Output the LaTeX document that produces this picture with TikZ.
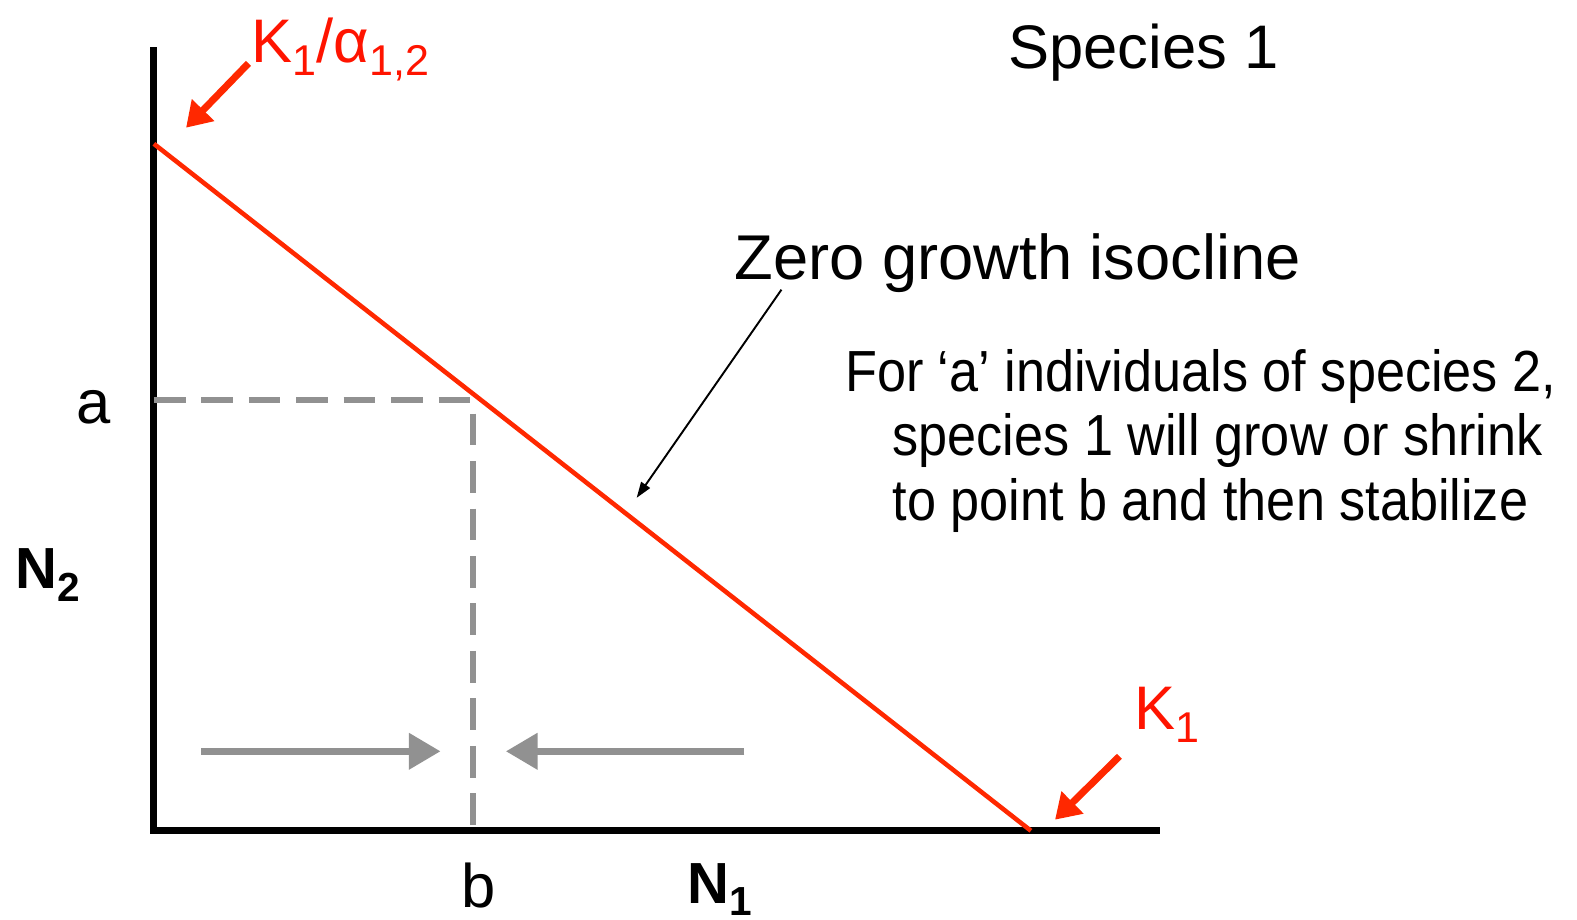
\documentclass[tikz,border=0pt]{standalone}
\usepackage{fontspec}
\setmainfont{Liberation Sans}
\newfontfamily\narrowfont[FakeStretch=0.9]{Liberation Sans}
\usetikzlibrary{arrows.meta}

\definecolor{isored}{RGB}{255,40,0}
\definecolor{lblred}{RGB}{255,20,0}
\definecolor{guidegray}{RGB}{145,145,145}
\newcommand{\idx}[1]{\raisebox{-0.22em}{\fontsize{0.7\fontdimen6\font}{0pt}\selectfont #1}}

\begin{document}
\begin{tikzpicture}[
  x=0.02011cm, y=-0.02011cm,
  axis/.style={line width=4pt},
  iso/.style={line width=2.6pt, draw=isored},
  guide/.style={line width=3.5pt, draw=guidegray, dash pattern=on 18pt off 9pt},
  push/.style={-{Triangle[length=18pt,width=20pt]}, line width=3.8pt, draw=guidegray},
  point/.style={-{Triangle[length=14pt,width=17pt]}, line width=4pt, draw=isored, fill=isored},
  note/.style={-{Triangle[length=9pt,width=6pt]}, line width=1.1pt},
  lbl/.style={inner sep=0pt, font=\fontsize{35}{42}\selectfont},
  redlbl/.style={inner sep=0pt, text=lblred, font=\fontsize{35}{40}\selectfont},
  axlbl/.style={inner sep=0pt, anchor=base west, font=\bfseries\fontsize{33}{38}\selectfont},
]
\useasboundingbox (0,0) rectangle (1568,914);

% Axes
\coordinate (ytop) at (153,47);
\coordinate (xend) at (1153,826);
\draw[axis] (ytop) |- (xend);

% Isocline
\coordinate (kalpha) at (153,143);
\coordinate (kone) at (1025,826);
\draw[iso] (kalpha) -- (kone);

% Guides for a and b
\coordinate (atick) at (153,398);
\coordinate (btick) at (470,826);
\draw[guide] (atick) -| (btick);

% Movement towards b
\coordinate (growL) at (200,747);
\coordinate (growR) at (438,747);
\coordinate (shrinkR) at (740,747);
\coordinate (shrinkL) at (503,747);
\draw[push] (growL) -- (growR);
\draw[push] (shrinkR) -- (shrinkL);

% Labels
\node[lbl] (species) at (1137,52) {Species 1};
\node[lbl, font=\fontsize{36}{42}\selectfont] (zero) at (1012,262) {Zero growth isocline};
\node[lbl, anchor=west, align=left, font=\narrowfont\fontsize{33}{36.7}\selectfont] (info) at (840,438)
  {For ‘a’ individuals of species 2,\\
   \hspace*{27pt}species 1 will grow or shrink\\
   \hspace*{27pt}to point b and then stabilize};
\node[lbl] (alab) at (93,405) {a};
\node[lbl] (blab) at (476,880) {b};
\node[axlbl] (ntwo) at (15,585) {N\idx{2}};
\node[axlbl] (none) at (683,898) {N\idx{1}};
\node[redlbl, anchor=base west] (kalab) at (250,62) {K\idx{1}/α\idx{1,2}};
\node[redlbl, anchor=base west] (klab) at (1128,725) {K\idx{1}};

% Pointers
\coordinate (zerotail) at (777,288);
\coordinate (zerotip) at (633,495);
\draw[note] (zerotail) -- (zerotip);
\coordinate (katail) at (247,63);
\coordinate (katip) at (185,127);
\draw[point] (katail) -- (katip);
\coordinate (ktail) at (1113,752);
\coordinate (ktip) at (1049,815);
\draw[point] (ktail) -- (ktip);

\end{tikzpicture}
\end{document}
